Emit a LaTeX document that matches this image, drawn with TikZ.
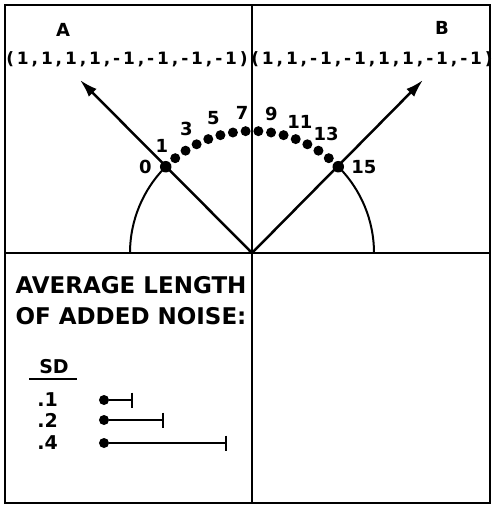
\documentclass[tikz,border=0pt]{standalone}
\usepackage{fontspec}
\setmainfont{DejaVu Sans}
\usetikzlibrary{arrows.meta,positioning}
\tikzset{
  frame/.style={line width=2.6pt},
  vec/.style={-{Latex[length=18pt,width=11pt]}, line width=2.5pt},
  arcline/.style={line width=2pt},
  dot/.style={circle, fill, inner sep=0pt, minimum size=10pt},
  bigdot/.style={dot, minimum size=11.5pt},
  lbl/.style={font=\fontsize{18}{20}\selectfont\bfseries, inner sep=0pt},
  tup/.style={font=\fontsize{17}{20}\selectfont\bfseries\addfontfeature{LetterSpace=17}, inner sep=0pt},
  ttl/.style={font=\fontsize{23}{31}\selectfont\bfseries, align=center, inner sep=0pt},
  sdlbl/.style={font=\fontsize{19}{21}\selectfont\bfseries, inner sep=0pt},
  bar/.style={-{Bar[width=15pt]}, line width=2pt},
}
\begin{document}
\begin{tikzpicture}[x=1pt,y=1pt]
\useasboundingbox (-252,-253) rectangle (243,253);
% frame and axes
\draw[frame] (-247,248) rectangle (238,-250);
\draw[frame] (0,248) -- (0,-250);
\draw[frame] (-247,0) -- (238,0);
\coordinate (O) at (0,0);
% the two vectors
\coordinate (tipA) at (-172,173);
\coordinate (tipB) at (171,173);
\draw[vec] (O) -- (tipA);
\draw[vec] (O) -- (tipB);
\node[lbl] (A) at (-189,223) {A};
\node[lbl] (B) at (190,225) {B};
\node[tup] (tupA) at (-125,194) {(1,1,1,1,-1,-1,-1,-1)};
\node[tup] (tupB) at (120,194) {(1,1,-1,-1,1,1,-1,-1)};
% arc and points
\draw[arcline] ([shift={(180:122)}]O) arc[start angle=180, end angle=135, radius=122];
\draw[arcline] ([shift={(0:122)}]O) arc[start angle=0, end angle=45, radius=122];
\node[bigdot] (d0) at (135:122) {};
\node[bigdot] (d15) at (45:122) {};
\foreach \k in {1,...,14}
  \node[dot] (d\k) at ({135-6*\k}:122) {};
\foreach \k in {1,3,...,13}
  \node[lbl] (n\k) at ({136-6*\k}:140) {\k};
\node[lbl, left=8pt of d0] (n0) {0};
\node[lbl, right=7pt of d15] (n15) {15};
% legend
\node[ttl] (title) at (-121,-48) {AVERAGE LENGTH\\OF ADDED NOISE:};
\node[sdlbl] (sd) at (-198,-114) {SD};
\draw[arcline] ([xshift=-10pt,yshift=-5pt]sd.south west) -- ([xshift=8pt,yshift=-5pt]sd.south east);
\foreach \v/\y/\e [count=\i] in {.1/-147/-119, .2/-167/-88, .4/-190/-25} {
  \node[sdlbl, anchor=east] (sd\i) at (-194,\y) {\v};
  \node[dot] (s\i) at (-148,\y) {};
  \coordinate (e\i) at (\e,\y);
  \draw[bar] (s\i) -- (e\i);
}
\end{tikzpicture}
\end{document}
